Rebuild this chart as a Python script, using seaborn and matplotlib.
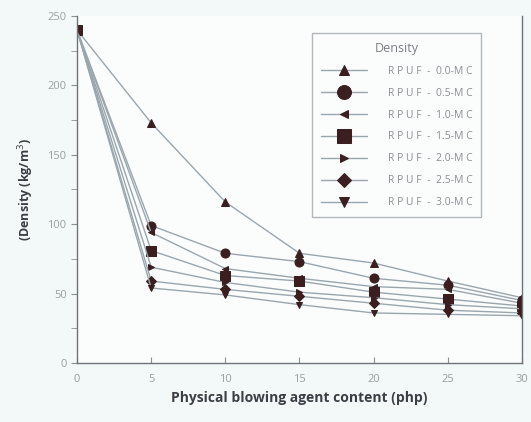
import matplotlib
matplotlib.use("Agg")
import matplotlib.pyplot as plt
import seaborn as sns

# Physical blowing agent content (php)
php = [0, 5, 10, 15, 20, 25, 30]

# density (kg/m3) for each RPUF series
rpuf_00 = [240, 173, 116, 79, 72, 59, 47]
rpuf_05 = [240, 99, 79, 73, 61, 56, 45]
rpuf_10 = [240, 94, 68, 61, 55, 53, 43]
rpuf_15 = [240, 81, 63, 59, 51, 46, 41]
rpuf_20 = [240, 69, 58, 51, 47, 42, 39]
rpuf_25 = [240, 59, 53, 48, 43, 38, 36]
rpuf_30 = [240, 54, 49, 42, 36, 35, 34]

labels = ["R P U F  -  0.0-M C", "R P U F  -  0.5-M C", "R P U F  -  1.0-M C",
          "R P U F  -  1.5-M C", "R P U F  -  2.0-M C", "R P U F  -  2.5-M C",
          "R P U F  -  3.0-M C"]
series = [rpuf_00, rpuf_05, rpuf_10, rpuf_15, rpuf_20, rpuf_25, rpuf_30]
markers = ["^", "o", "<", "s", ">", "D", "v"]
sizes = [6, 6.5, 5, 6.5, 5, 5, 5]
leg_sizes = [7, 10, 6, 10, 6, 7, 7]

sns.set_style("ticks")
plt.rcParams['font.family'] = ['Open Sans', 'DejaVu Sans']

fig = plt.figure(figsize=(5.31, 4.22), dpi=100, facecolor="#f3f8f8")
ax = fig.add_axes([0.145, 0.140, 0.838, 0.822])
ax.set_facecolor("#fbfdfd")

line_col = "#9aa6ad"
mark_col = "#3a1e20"
for vals, lab, m, ms in zip(series, labels, markers, sizes):
    sns.lineplot(x=php, y=vals, ax=ax, color=line_col, linewidth=1.0,
                 marker=m, markersize=ms, markerfacecolor=mark_col,
                 markeredgecolor=mark_col, label=lab)

ax.set_xlim(0, 30)
ax.set_ylim(0, 250)
ax.set_xticks(php)
ax.set_yticks([0, 50, 100, 150, 200, 250])
ax.set_yticks([25, 75, 125, 175, 225], minor=True)
ax.tick_params(axis="x", direction="in", length=4, colors="#8a8f92",
               labelsize=8, pad=8, labelcolor="#9a9fa2")
ax.tick_params(axis="y", which="both", direction="out", length=4,
               colors="#8a8f92", labelsize=8, labelcolor="#9a9fa2")

for side in ["left", "bottom", "right"]:
    ax.spines[side].set_color("#6e7478")
    ax.spines[side].set_linewidth(1.0)
ax.spines["top"].set_visible(False)

ax.set_xlabel("Physical blowing agent content (php)", fontsize=10,
              fontweight="bold", color="#3c3f45")
ax.set_ylabel("(Density (kg/m$^3$)", fontsize=9, fontweight="bold",
              color="#3c3f45", labelpad=8)

leg = ax.legend(title="Density", loc="upper left", bbox_to_anchor=(0.517, 0.965),
                fontsize=7.5, title_fontsize=9, handlelength=4.5,
                labelspacing=1.05, borderpad=0.8, handletextpad=2.0,
                frameon=True, fancybox=False, edgecolor="#a0a6aa")
leg.get_frame().set_facecolor("#fbfdfd")
for t in leg.get_texts():
    t.set_color("#8a8f92")
leg.get_title().set_color("#7a7f82")
for h, s in zip(leg.legend_handles, leg_sizes):
    h.set_markersize(s)

plt.savefig("out.png", dpi=100, facecolor=fig.get_facecolor())
